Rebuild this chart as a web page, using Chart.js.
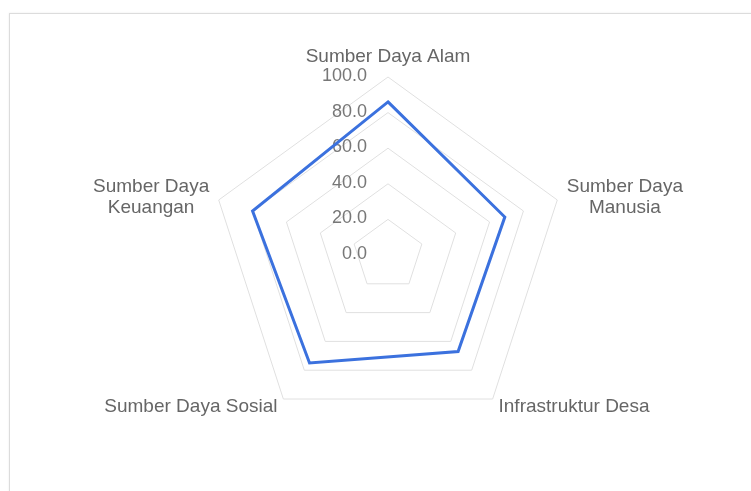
<!DOCTYPE html>
<html>
<head>
<meta charset="utf-8">
<script src="https://cdn.jsdelivr.net/npm/chart.js@4/dist/chart.umd.min.js"></script>
<style>
  html, body { margin: 0; padding: 0; background: #fff; }
  .card {
    position: absolute; left: 9px; top: 13px; width: 780px; height: 520px;
    border: 1px solid #dcdcdc; box-shadow: 0 0 2px rgba(0,0,0,0.08);
  }
  .wrap { position: absolute; left: 0; top: 0; width: 751px; height: 491px; }
</style>
</head>
<body>
<div class="card"></div>
<div class="wrap"><canvas id="radar"></canvas></div>
<script>
// axes (clockwise from top)
const categories = [
  'Sumber Daya Alam',
  ['Sumber Daya', 'Manusia'],
  'Infrastruktur Desa',
  'Sumber Daya Sosial',
  ['Sumber Daya', 'Keuangan']
];
const scores = [86, 69, 67, 75, 80];
const tickValues = [0, 20, 40, 60, 80, 100];

const LABEL_FONT = '19px "Liberation Sans", Arial, sans-serif';
const TICK_FONT = '18px "Liberation Sans", Arial, sans-serif';
const LINE_H = 21;
const TEXT_COLOR = '#666';
const TICK_COLOR = '#777';

// tick numbers sit left of the vertical axis, right-aligned (incl. 0.0)
const tickText = {
  id: 'tickText',
  beforeDatasetsDraw(chart) {
    const s = chart.scales.r;
    const ctx = chart.ctx;
    ctx.save();
    ctx.font = TICK_FONT;
    ctx.fillStyle = TICK_COLOR;
    ctx.textAlign = 'right';
    ctx.textBaseline = 'middle';
    tickValues.forEach(v => {
      const d = s.getDistanceFromCenterForValue(v);
      ctx.fillText(v.toFixed(1), s.xCenter - 21, s.yCenter - d - 1);
    });
    ctx.restore();
  }
};

// point labels, multi-line blocks centred line by line
const axisText = {
  id: 'axisText',
  afterDatasetsDraw(chart) {
    const s = chart.scales.r;
    const ctx = chart.ctx;
    ctx.save();
    ctx.font = LABEL_FONT;
    ctx.fillStyle = TEXT_COLOR;
    ctx.textAlign = 'center';
    ctx.textBaseline = 'middle';
    categories.forEach((lbl, i) => {
      const lines = Array.isArray(lbl) ? lbl : [lbl];
      const p = s.getPointPosition(i, s.drawingArea + 10);
      const w = Math.max(...lines.map(l => ctx.measureText(l).width));
      const h = lines.length * LINE_H;
      let cx = p.x;
      if (p.x > s.xCenter + 5) cx = p.x + w / 2;
      else if (p.x < s.xCenter - 5) cx = p.x - w / 2;
      let top = p.y - h / 2;
      if (p.y < s.yCenter - s.drawingArea) top = p.y - h;
      lines.forEach((l, k) => ctx.fillText(l, cx, top + LINE_H / 2 + k * LINE_H));
    });
    ctx.restore();
  }
};

new Chart(document.getElementById('radar'), {
  type: 'radar',
  data: {
    labels: categories,
    datasets: [{
      data: scores,
      borderColor: '#3b71de',
      backgroundColor: 'transparent',
      borderWidth: 3,
      pointRadius: 0,
      pointHoverRadius: 0,
      fill: false
    }]
  },
  options: {
    animation: false,
    responsive: true,
    maintainAspectRatio: false,
    layout: { padding: { top: 77, bottom: 58, left: 210, right: 185 } },
    plugins: { legend: { display: false }, tooltip: { enabled: false } },
    scales: {
      r: {
        min: 0,
        max: 100,
        ticks: { stepSize: 20, display: false },
        grid: { color: '#e0e0e0', lineWidth: 1 },
        angleLines: { display: false },
        pointLabels: { display: false }
      }
    }
  },
  plugins: [tickText, axisText]
});
</script>
</body>
</html>
